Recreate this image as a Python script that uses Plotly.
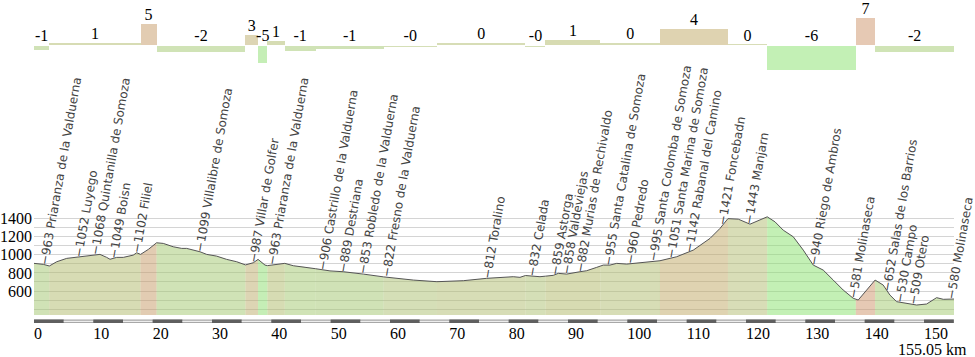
import numpy as np
import plotly.graph_objects as go

# ---------------- data ----------------
total_km = 155.05

prof_km = [0, 1.57, 2.58, 3.83, 5.51, 7.20, 8.88, 11.12, 12.25, 12.81, 13.94, 15.05, 16.73, 17.31,
           17.96, 19.27, 20.66, 21.79, 23.47, 24.89, 25.73, 27.97, 29.10, 30.78, 32.47, 34.16,
           35.64, 36.96, 37.76, 38.93, 39.34, 40.90, 42.26, 43.70, 45.38, 47.47, 49.88, 52.12,
           55.49, 58.92, 63.92, 67.9, 72.35, 76.29, 80.77, 81.90, 82.83, 85.27, 86.2, 87.51,
           88.36, 89.77, 92.01, 93.14, 94.83, 95.45, 95.94, 97.07, 98.20, 99.88, 102.12, 104.37,
           105.5, 108.31, 111.11, 113.93, 115.61, 116.95, 118.70, 120.67, 122.35, 123.57, 124.88,
           126.27, 127.96, 129.65, 131.33, 133.01, 134.70, 136.38, 138.07, 138.5, 138.91, 140.33,
           141.75, 143.12, 144.25, 145.38, 147.06, 148.75, 150.43, 152.12, 153.24, 155.05]
prof_elev = [905, 894, 876, 923, 960, 971, 985, 1004, 971, 950, 971, 971, 996, 1022,
             1004, 1059, 1132, 1125, 1088, 1070, 1070, 1033, 1004, 985, 949, 923,
             888, 912, 949, 886, 880, 894, 905, 879, 868, 846, 822, 813,
             787, 756, 721, 703, 714, 740, 758, 751, 771, 758, 764, 773,
             795, 787, 813, 824, 861, 872, 886, 886, 905, 897, 912, 930,
             934, 978, 1051, 1180, 1290, 1398, 1392, 1337, 1389, 1418, 1363,
             1271, 1198, 1051, 886, 831, 721, 611, 520, 508, 501, 611,
             721, 666, 556, 483, 465, 446, 457, 527, 509, 512]

seg_start = [0, 2.58, 17.96, 20.66, 35.64, 37.76, 39.34, 42.26, 47.47, 58.92, 67.9, 82.83,
             86.2, 95.45, 105.5, 116.95, 123.57, 138.5, 141.75]
seg_end = seg_start[1:] + [total_km]
seg_grade = [-1.2, 0.6, 5.2, -1.7, 2.6, -4.6, 0.9, -1.4, -0.95, -0.4, 0.4, -0.4, 1.2, 0.4,
             4.1, 0.1, -6.2, 6.8, -1.8]

place_km = [1.85, 7.5, 10.4, 13.37, 17.3, 27.97, 36.96, 40.05, 48.6, 52.1, 55.4, 59.4, 76.3,
            83.9, 87.8, 89.8, 92.0, 96.8, 100.4, 104.4, 107.3, 110.4, 116.06, 120.5, 131.4,
            138.1, 143.8, 146.0, 148.2, 154.6]
place_elev = [963, 1052, 1068, 1049, 1102, 1099, 987, 963, 906, 889, 853, 822, 812, 832, 859,
              858, 882, 955, 960, 995, 1051, 1142, 1421, 1443, 940, 581, 652, 530, 509, 580]
place_name = ["Priaranza de la Valduerna", "Luyego", "Quintanilla de Somoza", "Boisn", "Filiel",
              "Villalibre de Somoza", "Villar de Golfer", "Priaranza de la Valduerna",
              "Castrillo de la Valduerna", "Destriana", "Robledo de la Valduerna",
              "Fresno de la Valduerna", "Toralino", "Celada", "Astorga", "Valdeviejas",
              "Murias de Rechivaldo", "Santa Catalina de Somoza", "Pedredo",
              "Santa Colomba de Somoza", "Santa Marina de Somoza", "Rabanal del Camino",
              "Foncebadn", "Manjarn", "Riego de Ambros", "Molinaseca", "Salas de los Barrios",
              "Campo", "Otero", "Molinaseca"]

xtick_vals = list(range(0, 151, 10))
xtick_text = [str(v) for v in xtick_vals]
ytick_vals = list(range(400, 1501, 100))
ytick_labelled = [600, 800, 1000, 1200, 1400]
ytick_text = [str(v) if v in ytick_labelled else "" for v in ytick_vals]
scale_step = 5

# ---------------- style ----------------
SERIF = "Liberation Serif"
SANS = "DejaVu Sans"
grade_anchor = [-6.2, -4.6, -2.0, -1.0, 0.0, 1.0, 2.6, 4.1, 5.2, 6.8]
col_anchor = [(195, 240, 181), (197, 238, 182), (208, 228, 182), (208, 226, 182),
              (216, 221, 184), (214, 220, 178), (221, 213, 180), (223, 211, 177),
              (226, 204, 178), (230, 201, 180)]


def grade_rgb(g):
    return tuple(int(round(np.interp(g, grade_anchor, [c[i] for c in col_anchor]))) for i in range(3))


def solid(g):
    r, gg, b = grade_rgb(g)
    return f"rgb({r},{gg},{b})"


def translucent(g):
    r, gg, b = grade_rgb(g)
    a = 0.5
    c = [max(0, min(255, int(round((v - (1 - a) * 255) / a)))) for v in (r, gg, b)]
    return f"rgba({c[0]},{c[1]},{c[2]},{a})"


fig = go.Figure()

km = np.array(prof_km)
el = np.array(prof_elev)

# coloured fill per gradient segment
for s, e, g in zip(seg_start, seg_end, seg_grade):
    m = (km >= s - 1e-9) & (km <= e + 1e-9)
    fig.add_trace(go.Scatter(x=km[m], y=el[m], mode="lines", line=dict(width=0),
                             fill="tozeroy", fillcolor=translucent(g), hoverinfo="skip",
                             xaxis="x", yaxis="y"))

# profile line
fig.add_trace(go.Scatter(x=prof_km, y=prof_elev, mode="lines",
                         line=dict(color="#555555", width=1), xaxis="x", yaxis="y"))

# gradient strip
mid = [(s + e) / 2 for s, e in zip(seg_start, seg_end)]
wid = [e - s for s, e in zip(seg_start, seg_end)]
base = [0 if g > 0 else -0.25 for g in seg_grade]
fig.add_trace(go.Bar(x=mid, y=[g if g > 0 else g + 0.25 for g in seg_grade],
                     base=base, width=wid,
                     marker=dict(color=[solid(g) for g in seg_grade], line=dict(width=0)),
                     xaxis="x", yaxis="y2"))
fig.add_trace(go.Scatter(x=mid, y=[max(g, 0) for g in seg_grade], mode="text",
                         text=[f"{g:.0f}" for g in seg_grade], textposition="top center",
                         textfont=dict(family=SERIF, size=16, color="black"),
                         cliponaxis=False, xaxis="x", yaxis="y2"))

# place labels
lab_y = np.interp(place_km, prof_km, prof_elev)
H = 15
for k, yv, pe, nm in zip(place_km, lab_y, place_elev, place_name):
    fig.add_annotation(x=k, y=yv, xref="x", yref="y", text=f"\u2212{pe} {nm}",
                       textangle=-80, showarrow=False, xanchor="left", yanchor="bottom",
                       xshift=-0.49 * H, yshift=-0.087 * H, borderpad=0, borderwidth=0,
                       font=dict(family=SANS, size=12, color="#444444"))

# scale bar under the axis
PH = 305.0
def py(px):
    return (315 - px) / PH

fig.add_shape(type="rect", xref="x", yref="paper", x0=0, x1=total_km, y0=py(323), y1=py(319.5),
              fillcolor="#a8a8a8", line=dict(width=0), layer="above")
for i, k0 in enumerate(range(0, int(total_km), scale_step)):
    k1 = min(k0 + scale_step, total_km)
    if i % 2 == 0:
        fig.add_shape(type="rect", xref="x", yref="paper", x0=k0, x1=k1, y0=py(323), y1=py(319.5),
                      fillcolor="#5f5f5f", line=dict(width=0), layer="above")
    else:
        fig.add_shape(type="rect", xref="x", yref="paper", x0=k0, x1=k1, y0=py(321.8), y1=py(320.8),
                      fillcolor="white", line=dict(width=0), layer="above")

fig.add_annotation(x=1.0163, y=py(350), xref="paper", yref="paper", text=f"{total_km:.2f} km",
                   showarrow=False, xanchor="right", yanchor="middle",
                   font=dict(family=SERIF, size=16, color="black"))

fig.update_layout(
    width=975, height=357,
    margin=dict(l=34, r=21, t=10, b=42, pad=0, autoexpand=False),
    paper_bgcolor="white", plot_bgcolor="white",
    showlegend=False, bargap=0,
    xaxis=dict(range=[0, total_km], tickvals=xtick_vals, ticktext=xtick_text,
               ticklabelposition="outside right", ticks="", ticklabelstandoff=7,
               showgrid=False, zeroline=False, showline=False, automargin=False,
               tickfont=dict(family=SERIF, size=16, color="black")),
    yaxis=dict(domain=[0, py(209.2)], range=[336, 1502], tickvals=ytick_vals, ticktext=ytick_text,
               showgrid=True, gridcolor="rgb(212,212,212)", gridwidth=1, zeroline=False,
               ticks="", showline=False, ticklabelstandoff=1, automargin=False,
               tickfont=dict(family=SERIF, size=16, color="black")),
    yaxis2=dict(domain=[py(80), 1.0], range=[-8.75, 8.75], visible=False, fixedrange=True),
)

fig.write_html("out.html", config={"displayModeBar": False},
               post_script="document.body.style.margin='0px';document.body.style.overflow='hidden';")
